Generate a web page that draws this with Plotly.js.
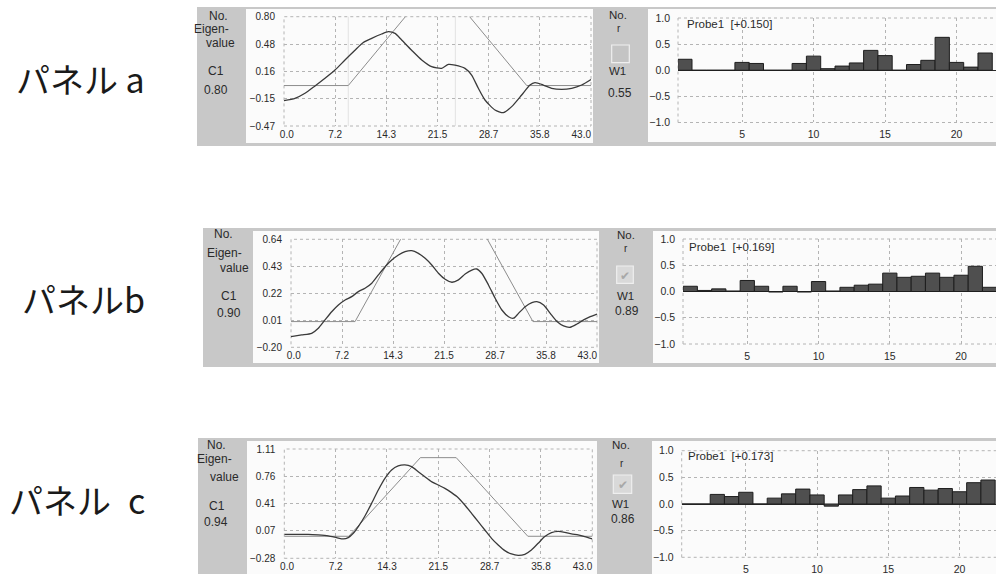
<!DOCTYPE html>
<html><head><meta charset="utf-8">
<script src="https://cdn.plot.ly/plotly-3.0.1.min.js"></script>
<style>html,body{margin:0;padding:0;background:#fff;} #chart{width:996px;height:574px;}</style>
</head><body><div id="chart"></div>
<script>
// ---------------- DATA ----------------
const panelNames = ['パネル a', 'パネルb', 'パネル\u2002c'];
const eigenValues = ['0.80', '0.90', '0.94'];
const weightValues = ['0.55', '0.89', '0.86'];
const probeLabels = ['Probe1  [+0.150]', 'Probe1  [+0.169]', 'Probe1  [+0.173]'];
const checked = [false, true, true];

const xTickVals = [0, 7.1667, 14.3333, 21.5, 28.6667, 35.8333, 43];
const xTickText = ['0.0', '7.2', '14.3', '21.5', '28.7', '35.8', '43.0'];

const yRangeA = [-0.47, 0.80];
const yTickValsA = [-0.47, -0.1525, 0.165, 0.4825, 0.80];
const yTickTextA = ['\u22120.47', '\u22120.15', '0.16', '0.48', '0.80'];
const yRangeB = [-0.20, 0.64];
const yTickValsB = [-0.20, 0.01, 0.22, 0.43, 0.64];
const yTickTextB = ['\u22120.20', '0.01', '0.22', '0.43', '0.64'];
const yRangeC = [-0.28, 1.11];
const yTickValsC = [-0.28, 0.0675, 0.415, 0.7625, 1.11];
const yTickTextC = ['\u22120.28', '0.07', '0.41', '0.76', '1.11'];

// reference (template) trapezoid
const trapX = [0, 9, 19, 24, 34, 43];
const trapY = [0, 0, 1, 1, 0, 0];
// faint window markers in panel a
const markerA = [9, 24];

const eigAx = [0,1.54,2.94,4.34,5.74,7.14,8.54,9.94,11.11,12.28,13.68,14.61,15.55,16.48,17.88,19.29,20.68,22.08,23.02,23.95,25.35,26.28,27.22,28.15,29.55,30.72,31.89,33.29,34.45,35.15,36.32,37.49,38.89,40.29,41.69,43.0];
const eigAy = [-0.176,-0.149,-0.09,-0.005,0.084,0.18,0.297,0.41,0.50,0.548,0.599,0.626,0.606,0.529,0.41,0.297,0.219,0.20,0.246,0.238,0.20,0.122,-0.032,-0.168,-0.284,-0.315,-0.245,-0.11,0.006,0.033,0.006,-0.032,-0.044,-0.032,0.006,0.07];

const eigBx = [0,1.5,2.9,3.84,4.78,5.72,6.66,7.6,8.53,9.47,10.4,11.35,12.28,13.22,14.16,15.1,16.03,16.97,17.9,18.85,19.78,20.72,21.66,22.6,23.53,24.47,25.41,26.1,26.8,27.75,28.69,29.63,30.57,31.27,31.97,32.91,33.85,34.55,35.5,36.43,37.37,38.3,39.24,40.18,41.12,42.05,43.0];
const eigBy = [-0.117,-0.104,-0.091,-0.052,0.013,0.077,0.129,0.168,0.194,0.233,0.259,0.298,0.363,0.427,0.479,0.518,0.544,0.552,0.531,0.492,0.44,0.376,0.329,0.306,0.324,0.370,0.401,0.409,0.376,0.285,0.181,0.090,0.038,0.026,0.064,0.116,0.147,0.155,0.129,0.064,0.0,-0.034,-0.044,-0.019,0.013,0.038,0.059];

const eigCx = [0,1.49,3.35,4.74,6.14,7.3,8.23,8.93,9.63,10.33,11.26,12.19,13.12,14.05,14.98,15.9,16.84,17.77,18.7,19.63,20.56,21.49,22.42,23.35,24.28,25.2,26.14,27.07,28.0,28.93,29.86,30.79,31.72,32.65,33.58,34.5,35.44,36.37,37.3,38.23,39.16,40.09,41.02,41.95,43.0];
const eigCy = [0.025,0.025,0.025,0.017,0.004,-0.017,-0.034,-0.017,0.038,0.123,0.258,0.419,0.589,0.737,0.843,0.894,0.907,0.885,0.822,0.758,0.695,0.652,0.61,0.555,0.491,0.398,0.292,0.186,0.08,-0.026,-0.11,-0.182,-0.225,-0.242,-0.229,-0.174,-0.089,-0.004,0.046,0.063,0.051,0.03,0.017,-0.004,-0.034];

const barX = [1,2,3,4,5,6,7,8,9,10,11,12,13,14,15,16,17,18,19,20,21,22];
const barsA = [0.21,0,0,0,0.15,0.13,0,0,0.13,0.27,0.03,0.08,0.14,0.38,0.28,0,0.11,0.19,0.63,0.15,0.06,0.33];
const barsB = [0.10,0.02,0.05,0.01,0.21,0.10,-0.01,0.10,-0.01,0.19,0.01,0.08,0.12,0.14,0.35,0.27,0.29,0.35,0.27,0.31,0.48,0.08];
const barsC = [0,0,0.18,0.14,0.22,0,0.11,0.19,0.28,0.17,-0.04,0.17,0.27,0.34,0.11,0.15,0.31,0.26,0.29,0.23,0.40,0.45];
const barTickVals = [5, 10, 15, 20];
const barTickText = ['5', '10', '15', '20'];
const barYTickVals = [-1, -0.5, 0, 0.5, 1];
const barYTickText = ['\u22121.0', '\u22120.5', '0.0', '0.5', '1.0'];

// ---------------- GEOMETRY (pixels) ----------------
const W = 996, H = 574;
const fx = p => p / W, fy = p => 1 - p / H;
const GRAY = '#c8c8c8', WHITE = '#fbfbfb', GRID = '#b4b4b4', TXT = '#2a2a2a';
const FONT = 'Liberation Sans, Arial, sans-serif';
const NB = '\u00a0';
// edge tick labels sit inside the frame in the reference
const xTickShown = xTickText.map((t, k) =>
  k === 0 ? NB + NB + t : (k === xTickText.length - 1 ? t + NB.repeat(7) : t));

const geo = [
  { line:[284,591,16.7,126], bar:[678,996,18,122.5], gray:[197,7,1000,146], wl:[246,9,593,143], wr:[648,9,1000,142],
    barRange:[0.52,22.76], label:[147,78],
    ltxt:{no:[218.7,16],eig:[211,29.3],val:[220.8,43.3],c1:[215.8,71],v:[215.8,90]},
    rtxt:{no:[618.3,15],r:[619.3,28],w:[617,71],v:[620,93]}, cb:[611.7,45,629.3,62.7], probe:[685,24] },
  { line:[291,597,239.3,347.3], bar:[683,996,239,344], gray:[203,228,1000,367], wl:[253,231,599,363], wr:[653,231,1000,363],
    barRange:[0.49,22.45], label:[147,298],
    ltxt:{no:[223,234],eig:[224,253.3],val:[234.7,267.7],c1:[229,296],v:[228.7,313.3]},
    rtxt:{no:[626.3,235],r:[626,248],w:[625,296],v:[626.7,310.7]}, cb:[616.7,266,633.3,283.3], probe:[687.3,246.7] },
  { line:[284.3,592.3,449,558.3], bar:[681.7,996,450.7,557.3], gray:[198,438,1000,600], wl:[247,441,597,600], wr:[652,441,1000,600],
    barRange:[0.50,22.56], label:[147,500],
    ltxt:{no:[216.3,445],eig:[214,459.3],val:[224,476.7],c1:[217,506],v:[216.3,521.7]},
    rtxt:{no:[621,445],r:[621.7,463.3],w:[620,504],v:[623.3,519.3]}, cb:[613.3,475,631.7,493.3], probe:[686,456] }
];

const eigX = [eigAx, eigBx, eigCx];
const eigY = [eigAy, eigBy, eigCy];
const yRanges = [yRangeA, yRangeB, yRangeC];
const yTV = [yTickValsA, yTickValsB, yTickValsC];
const yTT = [yTickTextA, yTickTextB, yTickTextC];
const bars = [barsA, barsB, barsC];

const data = [];
const layout = {
  width: W, height: H, margin: {l:0, r:0, t:0, b:0},
  paper_bgcolor: '#ffffff', plot_bgcolor: 'rgba(0,0,0,0)',
  showlegend: false, shapes: [], annotations: [],
  font: {family: FONT, color: TXT}
};

function rectPx(r, fill, line) {
  return {type:'rect', xref:'paper', yref:'paper', layer:'below',
    x0:fx(r[0]), x1:fx(r[2]), y0:fy(r[3]), y1:fy(r[1]),
    fillcolor:fill, line: line || {width:0}};
}
function txt(s, p, size, anchor) {
  return {text:s, xref:'paper', yref:'paper', x:fx(p[0]), y:fy(p[1]),
    xanchor:anchor || 'center', yanchor:'middle', showarrow:false,
    font:{family:FONT, size:size, color:TXT}};
}

geo.forEach((g, i) => {
  const li = 2*i + 1, bi = 2*i + 2;
  const lx = 'x' + li, ly = 'y' + li, bx = 'x' + bi, by = 'y' + bi;
  const lxa = 'xaxis' + li, lya = 'yaxis' + li, bxa = 'xaxis' + bi, bya = 'yaxis' + bi;

  // backgrounds
  layout.shapes.push(rectPx(g.gray, GRAY));
  layout.shapes.push(rectPx(g.wl, WHITE));
  layout.shapes.push(rectPx(g.wr, WHITE));

  // line plot traces
  data.push({x: trapX, y: trapY, xaxis: lx, yaxis: ly, mode: 'lines',
    line: {color: '#8c8c8c', width: 1}, hoverinfo: 'skip'});
  data.push({x: eigX[i], y: eigY[i], xaxis: lx, yaxis: ly, mode: 'lines',
    line: {color: '#3a3a3a', width: 1.3, shape: 'spline', smoothing: 0.6}, hoverinfo: 'skip'});

  // bar trace
  data.push({type: 'bar', x: barX, y: bars[i], xaxis: bx, yaxis: by, width: 1,
    marker: {color: '#4f4f4f', line: {color: '#1e1e1e', width: 1}}, hoverinfo: 'skip'});

  const gridCommon = {showgrid: true, gridcolor: GRID, griddash: '3px,3px', gridwidth: 1,
    zeroline: false, showline: false, ticks: '', fixedrange: true};

  layout[lxa] = Object.assign({}, gridCommon, {
    domain: [fx(g.line[0]), fx(g.line[1])], anchor: ly, range: [0, 43],
    tickmode: 'array', tickvals: xTickVals, ticktext: xTickShown,
    tickfont: {family: FONT, size: 10, color: TXT}, ticklabelstandoff: 1});
  layout[lya] = Object.assign({}, gridCommon, {
    domain: [fy(g.line[3]), fy(g.line[2])], anchor: lx, range: yRanges[i],
    tickmode: 'array', tickvals: yTV[i], ticktext: yTT[i],
    tickfont: {family: FONT, size: 10, color: TXT}, ticklabelstandoff: 8});

  layout[bxa] = Object.assign({}, gridCommon, {
    domain: [fx(g.bar[0]), 1], anchor: by, range: g.barRange,
    tickmode: 'array', tickvals: barTickVals, ticktext: barTickText,
    tickfont: {family: FONT, size: 10.5, color: TXT}, ticklabelstandoff: 4});
  layout[bya] = Object.assign({}, gridCommon, {
    domain: [fy(g.bar[3]), fy(g.bar[2])], anchor: bx, range: [-1, 1],
    tickmode: 'array', tickvals: barYTickVals, ticktext: barYTickText,
    zeroline: true, zerolinecolor: '#2a2a2a', zerolinewidth: 1,
    tickfont: {family: FONT, size: 10.5, color: TXT}, ticklabelstandoff: 7});

  // dashed borders
  const dash = {color: GRID, width: 1, dash: '3px,3px'};
  layout.shapes.push({type:'rect', xref: lx + ' domain', yref: ly + ' domain', x0:0, x1:1, y0:0, y1:1, line: dash, layer:'below'});
  layout.shapes.push({type:'line', xref: bx + ' domain', yref: by + ' domain', x0:0, x1:0, y0:0, y1:1, line: dash, layer:'below'});
  layout.shapes.push({type:'line', xref: bx + ' domain', yref: by + ' domain', x0:0, x1:1, y0:1, y1:1, line: dash, layer:'below'});
  layout.shapes.push({type:'line', xref: bx + ' domain', yref: by + ' domain', x0:0, x1:1, y0:0, y1:0, line: dash, layer:'below'});

  if (i === 0) {
    markerA.forEach(m => layout.shapes.push({type:'line', xref: lx, yref: ly + ' domain',
      x0:m, x1:m, y0:0, y1:1, line:{color:'#e2e2e2', width:1}, layer:'below'}));
  }

  // checkbox
  layout.shapes.push(rectPx(g.cb, checked[i] ? '#d9d9d9' : '#c4c4c4', {color:'#efefef', width:1.2}));
  if (checked[i]) {
    layout.annotations.push(Object.assign(txt('\u2714', [(g.cb[0]+g.cb[2])/2, (g.cb[1]+g.cb[3])/2 + 1], 12), {font:{family:'DejaVu Sans', size:12, color:'#a8a8a8'}}));
  }

  // left column texts
  layout.annotations.push(txt('No.', g.ltxt.no, 12));
  layout.annotations.push(txt('Eigen-', g.ltxt.eig, 12));
  layout.annotations.push(txt('value', g.ltxt.val, 12));
  layout.annotations.push(txt('C1', g.ltxt.c1, 12));
  layout.annotations.push(txt(eigenValues[i], g.ltxt.v, 12));
  // right column texts
  layout.annotations.push(txt('No.', g.rtxt.no, 11.5));
  layout.annotations.push(txt('r', g.rtxt.r, 10));
  layout.annotations.push(txt('W1', g.rtxt.w, 11.5));
  layout.annotations.push(txt(weightValues[i], g.rtxt.v, 12));
  // probe label
  layout.annotations.push(txt(probeLabels[i], g.probe, 11.5, 'left'));
  // panel name
  layout.annotations.push({text: panelNames[i], xref:'paper', yref:'paper', x: fx(g.label[0]), y: fy(g.label[1]),
    xanchor:'right', yanchor:'middle', showarrow:false,
    font:{family:'Noto Sans CJK JP, sans-serif', size:34, color:'#1a1a1a'}});
});

Plotly.newPlot('chart', data, layout, {staticPlot: true, displayModeBar: false});
</script>
</body></html>
